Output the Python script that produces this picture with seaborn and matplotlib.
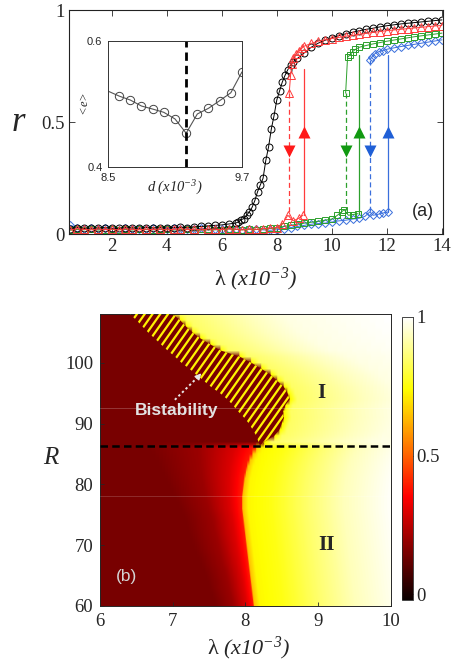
import numpy as np
import matplotlib
matplotlib.use("Agg")
import matplotlib.pyplot as plt
import seaborn as sns
from matplotlib.colors import Normalize
from matplotlib.patches import Polygon

# ---------------- panel (a): r vs lambda, forward / backward sweeps ----------------
lam_flat = np.arange(0.5, 8.01, 0.25)  # sweep points below the transition

lam_black = [0.5, 0.75, 1, 1.25, 1.5, 1.75, 2, 2.25, 2.5, 2.75, 3, 3.25, 3.5, 3.75, 4, 4.25,
             4.5, 4.75, 5, 5.25, 5.5, 5.75, 6, 6.25,
             6.5, 6.6, 6.7, 6.8, 6.9, 7.0, 7.1, 7.2, 7.3, 7.4, 7.5, 7.6, 7.7, 7.8, 7.9, 8.0,
             8.1, 8.2, 8.3, 8.4, 8.5, 8.6,
             8.75, 9, 9.25, 9.5, 9.75, 10, 10.25, 10.5, 10.75, 11, 11.25, 11.5, 11.75, 12,
             12.25, 12.5, 12.75, 13, 13.25, 13.5, 13.75, 14]
r_black = [0.025, 0.03, 0.026, 0.028, 0.027, 0.03, 0.027, 0.026, 0.03, 0.028, 0.027, 0.03,
           0.028, 0.03, 0.028, 0.03, 0.032, 0.03, 0.034, 0.035, 0.038, 0.04, 0.042, 0.046,
           0.05, 0.055, 0.065, 0.07, 0.085, 0.1, 0.12, 0.15, 0.19, 0.22, 0.25, 0.33, 0.39,
           0.47, 0.53, 0.6, 0.64, 0.68, 0.71, 0.735, 0.755, 0.77,
           0.785, 0.81, 0.835, 0.853, 0.866, 0.877, 0.887, 0.895, 0.902, 0.909, 0.915,
           0.92, 0.926, 0.931, 0.935, 0.939, 0.942, 0.945, 0.948, 0.951, 0.954, 0.957]

red_flat = [0.02, 0.025, 0.022, 0.02, 0.024, 0.021, 0.023, 0.02, 0.025, 0.022, 0.02, 0.023,
            0.021, 0.024, 0.02, 0.022, 0.025, 0.021, 0.023, 0.02, 0.024, 0.022, 0.021, 0.025,
            0.023, 0.02, 0.024, 0.022, 0.025, 0.028, 0.03]
red_lo_lam = [8.2, 8.4, 8.6, 8.8, 8.95]
red_lo_r = [0.045, 0.085, 0.06, 0.072, 0.085]
red_hi_lam = [8.45, 8.5, 8.55, 8.6, 8.7, 8.8, 8.9, 9.0, 9.25, 9.5, 9.75, 10, 10.25, 10.5, 10.75,
              11, 11.25, 11.5, 11.75, 12, 12.25, 12.5, 12.75, 13, 13.25, 13.5, 13.75, 14]
red_hi_r = [0.63, 0.71, 0.76, 0.785, 0.805, 0.82, 0.83, 0.84, 0.852, 0.862, 0.868, 0.874,
            0.879, 0.884, 0.888, 0.893, 0.897, 0.901, 0.905, 0.909, 0.912, 0.915, 0.918,
            0.921, 0.924, 0.927, 0.93, 0.932]

green_flat = [0.018, 0.022, 0.02, 0.024, 0.019, 0.021, 0.023, 0.02, 0.022, 0.019, 0.024, 0.021,
              0.02, 0.023, 0.022, 0.019, 0.021, 0.024, 0.02, 0.022, 0.023, 0.02, 0.021, 0.024,
              0.022, 0.02, 0.023, 0.021, 0.024, 0.026, 0.028]
green_lo_lam = [8.25, 8.5, 8.75, 9, 9.25, 9.5, 9.75, 10, 10.2, 10.35, 10.45, 10.6, 10.75, 10.95]
green_lo_r = [0.035, 0.04, 0.045, 0.05, 0.054, 0.058, 0.063, 0.068, 0.085, 0.1, 0.11, 0.085,
              0.088, 0.092]
green_hi_lam = [10.5, 10.57, 10.65, 10.75, 10.85, 11, 11.25, 11.5, 11.75, 12, 12.25, 12.5,
                12.75, 13, 13.25, 13.5, 13.75, 14]
green_hi_r = [0.63, 0.79, 0.8, 0.815, 0.825, 0.835, 0.843, 0.85, 0.856, 0.862, 0.867, 0.872,
              0.877, 0.882, 0.886, 0.89, 0.894, 0.898]

blue_flat = [0.04, 0.03, 0.025, 0.028, 0.022, 0.026, 0.024, 0.021, 0.027, 0.023, 0.025, 0.022,
             0.026, 0.021, 0.024, 0.027, 0.022, 0.025, 0.023, 0.026, 0.021, 0.024, 0.022, 0.025,
             0.023, 0.021, 0.024, 0.022, 0.02, 0.018, 0.02]
blue_lo_lam = [8.25, 8.5, 8.75, 9, 9.25, 9.5, 9.75, 10, 10.25, 10.5, 10.75, 11, 11.2, 11.38,
               11.5, 11.7, 11.85, 12.05]
blue_lo_r = [0.025, 0.03, 0.035, 0.04, 0.045, 0.048, 0.05, 0.055, 0.06, 0.063, 0.068, 0.072,
             0.08, 0.1, 0.085, 0.09, 0.095, 0.1]
blue_hi_lam = [11.38, 11.45, 11.55, 11.7, 11.85, 12, 12.25, 12.5, 12.75, 13, 13.25, 13.5,
               13.75, 14]
blue_hi_r = [0.78, 0.79, 0.805, 0.815, 0.82, 0.826, 0.832, 0.838, 0.843, 0.848, 0.853, 0.858,
             0.863, 0.868]

# jumps (red, green, blue)
jump_up_lam = [8.97, 10.97, 12.05]
jump_up_from = [0.085, 0.092, 0.1]
jump_up_to = [0.74, 0.80, 0.80]
jump_dn_lam = [8.45, 10.5, 11.38]
jump_dn_from = [0.63, 0.63, 0.78]
jump_dn_to = [0.08, 0.11, 0.1]
arrow_up_r = 0.455
arrow_dn_r = 0.37

# inset: <e> vs d
d_vals = [8.5, 8.6, 8.7, 8.8, 8.9, 9.0, 9.1, 9.2, 9.3, 9.4, 9.5, 9.6, 9.7]
e_vals = [0.5205, 0.5126, 0.5063, 0.4968, 0.492, 0.4868, 0.4763, 0.4537, 0.4842, 0.4932,
          0.5053, 0.5179, 0.551]
d_opt = 9.2

# ---------------- panel (b): phase diagram ----------------
R_lo = list(range(60, 87))  # rows below the dashed line
edge_lo = [8.12, 8.11, 8.10, 8.09, 8.08, 8.07, 8.06, 8.05, 8.04, 8.03, 8.02, 8.01, 8.0, 7.99,
           7.98, 7.97, 7.96, 7.96, 7.96, 7.97, 7.98, 7.99, 8.01, 8.03, 8.06, 8.1, 8.15]
red_start = [7.6, 7.58, 7.55, 7.52, 7.5, 7.47, 7.44, 7.4, 7.37, 7.33, 7.3, 7.27, 7.24, 7.22,
             7.2, 7.17, 7.12, 7.08, 7.04, 7.0, 6.96, 6.92, 6.88, 6.84, 6.8, 6.75, 6.7]
bist_R = [86.4] + list(range(87, 109))
bist_left = [8.2, 8.18, 8.15, 8.1, 8.05, 7.98, 7.9, 7.83, 7.75, 7.65, 7.53, 7.43, 7.33, 7.23,
             7.12, 7.03, 6.93, 6.84, 6.75, 6.66, 6.58, 6.5, 6.41]
bist_right = [8.2, 8.26, 8.4, 8.47, 8.5, 8.53, 8.52, 8.55, 8.61, 8.58, 8.53, 8.44, 8.35, 8.22,
              8.08, 7.92, 7.66, 7.52, 7.38, 7.27, 7.18, 7.1, 7.0]
r_background = 0.15
ramp_pos = [0, 0.45, 0.8, 1.0]
ramp_val = [0.15, 0.2, 0.3, 0.4]
lo_dl = [0, 0.08, 0.4, 0.9, 1.4, 2.0]
lo_val = [0.64, 0.73, 0.76, 0.85, 0.93, 0.99]
hi_dl = [0, 0.1, 0.5, 1.0, 1.5, 3.0]
hi_val = [0.72, 0.84, 0.88, 0.93, 0.97, 1.0]
R_dashed = 86.3

# ---------------- style ----------------
sns.set_style("ticks")
plt.rcParams["font.family"] = ["Liberation Serif", "DejaVu Serif"]
plt.rcParams["mathtext.fontset"] = "custom"
plt.rcParams["mathtext.rm"] = "Liberation Serif"
plt.rcParams["mathtext.it"] = "Liberation Serif:italic"
plt.rcParams["mathtext.cal"] = "Liberation Serif:italic"  # italic digits too
SANS = ["Liberation Sans", "DejaVu Sans"]
LAM_LABEL = r"$\mathrm{\lambda}\ \mathcal{(x10^{-3})}$"

fig = plt.figure(figsize=(4.53, 6.67), dpi=100)
ax = fig.add_axes([0.1523, 0.6487, 0.8264, 0.3359])

colors = {"red": "#ff3b3b", "green": "#2ca02c", "blue": "#3a6fdc"}
arrow_cols = ["#ff1a1a", "#119911", "#1f5fd6"]

def sweep(x, y, color, marker, ms):
    sns.lineplot(x=list(x), y=list(y), ax=ax, color=color, marker=marker, markersize=ms,
                 markerfacecolor="none", markeredgecolor=color, markeredgewidth=0.7,
                 linewidth=0.7, estimator=None, sort=False)

sweep(np.concatenate([lam_flat, blue_lo_lam]), blue_flat + blue_lo_r, colors["blue"], "D", 4)
sweep(blue_hi_lam, blue_hi_r, colors["blue"], "D", 4)
sweep(np.concatenate([lam_flat, green_lo_lam]), green_flat + green_lo_r, colors["green"], "s", 4)
sweep(green_hi_lam, green_hi_r, colors["green"], "s", 4)
sweep(lam_black, r_black, "black", "o", 5)
sweep(np.concatenate([lam_flat, red_lo_lam]), red_flat + red_lo_r, colors["red"], "^", 5.5)
sweep(red_hi_lam, red_hi_r, colors["red"], "^", 5.5)

for i, c in enumerate(["red", "green", "blue"]):
    ax.plot([jump_up_lam[i]] * 2, [jump_up_from[i], jump_up_to[i]], color=colors[c], lw=0.9)
    ax.plot([jump_dn_lam[i]] * 2, [jump_dn_from[i], jump_dn_to[i]], color=colors[c], lw=0.9,
            dashes=(4, 2.5))
    ax.plot(jump_up_lam[i], arrow_up_r, marker="^", ms=8, color=arrow_cols[i], mec="none")
    ax.plot(jump_dn_lam[i], arrow_dn_r, marker="v", ms=8, color=arrow_cols[i], mec="none")

ax.set_xlim(0.45, 14.05)
ax.set_ylim(0, 1)
ax.set_xticks([2, 4, 6, 8, 10, 12, 14])
ax.set_yticks([0, 0.5, 1])
ax.set_yticklabels(["0", "0.5", "1"])
ax.tick_params(direction="in", top=True, right=True, length=4, width=0.6, labelsize=13.5, pad=3)
for s in ax.spines.values():
    s.set_linewidth(0.8)
    s.set_color("#222222")
ax.set_xlabel(LAM_LABEL, fontsize=16)
ax.xaxis.set_label_coords(0.5, -0.14)
ax.set_ylabel(r"$r$", fontsize=25, rotation=0, va="center")
ax.yaxis.set_label_coords(-0.135, 0.5)
ax.text(0.946, 0.1, "(a)", transform=ax.transAxes, ha="center", va="center",
        fontsize=13, family=SANS)

# inset
axi = fig.add_axes([0.2384, 0.7496, 0.2958, 0.1889])
axi.set_facecolor("white")
axi.plot(d_vals, e_vals, color="#555555", lw=0.8, marker="o", ms=6, mfc="none",
         mec="#444444", mew=0.7, markevery=list(range(1, len(d_vals))))
axi.axvline(d_opt, color="black", lw=2.0, dashes=(3, 1.8))
axi.set_xlim(8.5, 9.7)
axi.set_ylim(0.4, 0.6)
axi.set_xticks([8.5, 9.7])
axi.set_yticks([0.4, 0.6])
axi.set_xticklabels(["8.5", "9.7"], family=SANS)
axi.set_yticklabels(["0.4", "0.6"], family=SANS)
axi.tick_params(direction="in", length=0, labelsize=8, pad=4)
for s in axi.spines.values():
    s.set_linewidth(0.7)
    s.set_color("#333333")
axi.set_xlabel(r"$\mathit{d}\ \mathcal{(x10^{-3})}$", fontsize=10.5, labelpad=-3)
axi.set_ylabel(r"$<\!\mathit{e}\!>$", fontsize=9, labelpad=-3)

# ---------------- panel (b) ----------------
axb = fig.add_axes([0.2208, 0.0915, 0.6416, 0.4377])
cmap = plt.get_cmap("hot")
norm = Normalize(vmin=-0.02, vmax=1.0)

lam_cols = np.linspace(6, 10, 401)
rows = []
for k, R in enumerate(R_lo):
    t, s = edge_lo[k], red_start[k]
    left = np.interp((lam_cols - s) / (t - s), ramp_pos, ramp_val)
    right = np.interp(lam_cols - t, lo_dl, lo_val)
    rows.append(np.where(lam_cols < t, left, right))
for k in range(1, len(bist_R)):
    t = bist_right[k]
    right = np.interp(lam_cols - t, hi_dl, hi_val)
    rows.append(np.where(lam_cols < t, r_background, right))
field = np.array(rows)

im = axb.imshow(field, cmap=cmap, norm=norm, origin="lower", aspect="auto",
                extent=[6 - 0.005, 10 + 0.005, 59.5, 108.5], interpolation="bilinear")

poly = Polygon(list(zip(bist_left, bist_R)) + list(zip(bist_right[::-1], bist_R[::-1])),
               closed=True, facecolor=cmap(norm(r_background)), edgecolor="none", zorder=2)
axb.add_patch(poly)
for x0 in np.arange(5.0, 9.2, 0.107):
    ln, = axb.plot([x0, x0 + 24 / 17.0], [86, 110], color="#fff200", lw=1.6,
                   solid_capstyle="butt", zorder=3)
    ln.set_clip_path(poly)

axb.axhline(92.6, color="white", lw=0.6, alpha=0.25, zorder=4)
axb.axhline(78.0, color="white", lw=0.6, alpha=0.2, zorder=4)
axb.axhline(R_dashed, color="black", lw=1.8, dashes=(3, 1.7), zorder=5)

axb.set_xlim(6, 10)
axb.set_ylim(60, 108)
axb.set_xticks([6, 7, 8, 9, 10])
axb.set_yticks([60, 70, 80, 90, 100])
axb.tick_params(direction="in", length=3, width=0.6, labelsize=13.5, pad=5)
for s in axb.spines.values():
    s.set_linewidth(0.7)
axb.set_xlabel(LAM_LABEL, fontsize=16)
axb.xaxis.set_label_coords(0.51, -0.1)
axb.set_ylabel(r"$R$", fontsize=18, rotation=0, va="center")
axb.yaxis.set_label_coords(-0.168, 0.507)

axb.text(9.05, 95, "I", fontsize=15, fontweight="bold", ha="center", va="center", zorder=6)
axb.text(9.12, 70, "II", fontsize=15, fontweight="bold", ha="center", va="center", zorder=6)
axb.text(6.37, 64.8, "(b)", fontsize=12.5, color="#d4d4d4", family=SANS, ha="center",
         va="center", zorder=6)
axb.text(7.05, 92.2, "Bistability", fontsize=12.5, fontweight="bold", color="#e2e2e2",
         family=SANS, ha="center", va="center", zorder=6)
axb.plot([7.03, 7.36], [93.9, 97.8], color="#e8e8e8", lw=1.4, dashes=(1.2, 1.4), zorder=6)
axb.annotate("", xy=(7.42, 98.6), xytext=(7.33, 97.4),
             arrowprops=dict(arrowstyle="-|>", color="#e8e8e8", lw=1.0, mutation_scale=9),
             zorder=6)

cax = fig.add_axes([0.8867, 0.1004, 0.0256, 0.4248])
cb = fig.colorbar(im, cax=cax, ticks=[0, 0.5, 1])
cb.ax.set_yticklabels(["0", "0.5", "1"])
cb.ax.tick_params(direction="in", left=True, right=True, length=3, width=0.6,
                  labelsize=13.5, pad=2)
cb.outline.set_linewidth(0.6)

fig.savefig("out.png", dpi=100)
